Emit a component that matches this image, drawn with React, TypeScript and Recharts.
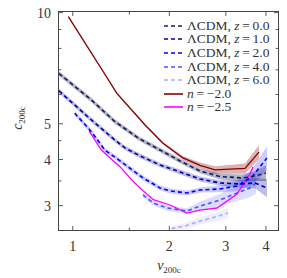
import React from "react";
import { ComposedChart, Line, Area, XAxis, YAxis } from "recharts";

// nu_200c, c_200c and error half-widths
const lcdm0Nu = [0.906, 1.143, 1.352, 1.609, 1.871, 2.16, 2.493, 2.877, 3.393, 3.698, 4.001];
const lcdm0C = [6.84, 5.8, 5.07, 4.56, 4.245, 3.965, 3.724, 3.598, 3.565, 3.61, 3.678];
const lcdm0Err = [0.1, 0.08, 0.07, 0.06, 0.06, 0.055, 0.055, 0.065, 0.08, 0.11, 0.18];

const lcdm1Nu = [0.906, 1.143, 1.352, 1.455, 1.621, 1.871, 2.16, 2.493, 2.877, 3.32, 3.698, 4.03];
const lcdm1C = [6.135, 5.12, 4.52, 4.3, 4.09, 3.867, 3.701, 3.543, 3.456, 3.434, 3.456, 3.35];
const lcdm1Err = [0.09, 0.075, 0.065, 0.06, 0.06, 0.055, 0.055, 0.055, 0.06, 0.08, 0.11, 0.19];

const lcdm2Nu = [1.014, 1.143, 1.258, 1.404, 1.656, 1.871, 2.01, 2.27, 2.493, 2.877, 3.25, 3.619, 4.03];
const lcdm2C = [5.34, 4.76, 4.245, 3.965, 3.565, 3.35, 3.288, 3.247, 3.308, 3.329, 3.392, 3.587, 4.04];
const lcdm2Err = [0.08, 0.07, 0.06, 0.06, 0.055, 0.05, 0.05, 0.05, 0.05, 0.07, 0.11, 0.18, 0.3];

const lcdm4Nu = [1.656, 1.783, 1.967, 2.27, 2.493, 2.877, 3.25, 3.567, 3.724];
const lcdm4C = [3.207, 3.05, 2.956, 2.901, 2.993, 3.107, 3.247, 3.35, 3.456];
const lcdm4Err = [0.05, 0.05, 0.05, 0.05, 0.08, 0.12, 0.16, 0.19, 0.22];

const lcdm6Nu = [2.03, 2.238, 2.493, 2.776, 3.046];
const lcdm6C = [2.6, 2.641, 2.725, 2.794, 2.865];
const lcdm6Err = [0.04, 0.05, 0.06, 0.07, 0.09];

const n20Nu = [0.969, 1.288, 1.371, 1.68, 1.911, 2.206, 2.493, 2.776, 3.442, 3.805];
const n20C = [9.75, 6.6, 6.05, 4.96, 4.43, 4.04, 3.855, 3.748, 3.783, 4.19];
const n20Err = [0.06, 0.04, 0.04, 0.03, 0.03, 0.05, 0.07, 0.09, 0.12, 0.18];

const n25Nu = [1.124, 1.228, 1.307, 1.404, 1.527, 1.621, 1.783, 2.01, 2.27, 2.493, 2.816, 3.25, 3.567, 3.645];
const n25C = [4.78, 4.245, 4.04, 3.826, 3.521, 3.35, 3.113, 3.012, 2.865, 2.919, 2.956, 3.227, 3.655, 3.818];

const xTicks = [1, 1.5, 2, 3, 4];
const xLabeled = [1, 2, 3, 4];
const yTicks = [3, 3.5, 4, 4.5, 5, 6, 7, 8, 9, 10];
const yLabeled = [3, 4, 5, 10];

const W = 287;
const H = 278;
const PL = 59;
const PT = 12;
const PR = 278;
const PB = 230;
const FONT = "'Liberation Serif', serif";
const INK = "#333";

const build = (nu: number[], c: number[], err?: number[]) =>
  nu.map((x, i) => ({
    nu: x,
    c: c[i],
    band: err ? [c[i] - err[i], c[i] + err[i]] : undefined,
  }));

const series = [
  { name: "z = 0.0", data: build(lcdm0Nu, lcdm0C, lcdm0Err), color: "#1a1a5e", alpha: 0.33, dash: "4 3" },
  { name: "z = 1.0", data: build(lcdm1Nu, lcdm1C, lcdm1Err), color: "#0000a0", alpha: 0.26, dash: "4 3" },
  { name: "z = 2.0", data: build(lcdm2Nu, lcdm2C, lcdm2Err), color: "#0000ff", alpha: 0.2, dash: "4 3" },
  { name: "z = 4.0", data: build(lcdm4Nu, lcdm4C, lcdm4Err), color: "#5050ff", alpha: 0.2, dash: "4 3" },
  { name: "z = 6.0", data: build(lcdm6Nu, lcdm6C, lcdm6Err), color: "#aaaaff", alpha: 0.2, dash: "4 3" },
  { name: "n = −2.0", data: build(n20Nu, n20C, n20Err), color: "#8b0000", alpha: 0.3, dash: undefined },
  { name: "n = −2.5", data: build(n25Nu, n25C), color: "#ff00ff", alpha: 0, dash: undefined },
];

const XTick = (props: any) => {
  const { x, payload } = props;
  const major = xLabeled.includes(payload.value);
  const len = major ? 4 : 2.5;
  return (
    <g>
      <line x1={x} y1={PB} x2={x} y2={PB - len} stroke={INK} strokeWidth={0.8} />
      <line x1={x} y1={PT} x2={x} y2={PT + len} stroke={INK} strokeWidth={0.8} />
      {major && (
        <text x={x} y={251} textAnchor="middle" fontFamily={FONT} fontSize={14} fill={INK}>
          {payload.value}
        </text>
      )}
    </g>
  );
};

const YTick = (props: any) => {
  const { y, payload } = props;
  const major = yLabeled.includes(payload.value);
  const len = major ? 4 : 2.5;
  return (
    <g>
      <line x1={PL} y1={y} x2={PL + len} y2={y} stroke={INK} strokeWidth={0.8} />
      <line x1={PR} y1={y} x2={PR - len} y2={y} stroke={INK} strokeWidth={0.8} />
      {major && (
        <text x={51} y={y + 5} textAnchor="end" fontFamily={FONT} fontSize={14} fill={INK}>
          {payload.value}
        </text>
      )}
    </g>
  );
};

const legendRows = [
  { color: "#1a1a5e", dash: "4 3", z: "0.0" },
  { color: "#0000a0", dash: "4 3", z: "1.0" },
  { color: "#0000ff", dash: "4 3", z: "2.0" },
  { color: "#5050ff", dash: "4 3", z: "4.0" },
  { color: "#aaaaff", dash: "4 3", z: "6.0" },
  { color: "#8b0000", dash: undefined, n: "−2.0" },
  { color: "#ff00ff", dash: undefined, n: "−2.5" },
];

export default function App() {
  return (
    <div style={{ position: "absolute", left: 0, top: 0, width: W, height: H, background: "#fff" }}>
      <ComposedChart width={W} height={H} margin={{ top: PT, right: W - PR, bottom: 0, left: 0 }}>
        <XAxis
          dataKey="nu"
          type="number"
          scale="log"
          domain={[0.906, 4.362]}
          allowDataOverflow
          ticks={xTicks}
          tick={<XTick />}
          tickLine={false}
          axisLine={false}
          height={H - PB}
          interval={0}
          label={{
            content: () => (
              <text x={169} y={270} textAnchor="middle" fontFamily={FONT} fill={INK}>
                <tspan fontStyle="italic" fontSize={14}>ν</tspan>
                <tspan fontSize={9} dy={3}>200c</tspan>
              </text>
            ),
          }}
        />
        <YAxis
          dataKey="c"
          type="number"
          scale="log"
          domain={[2.577, 10.04]}
          allowDataOverflow
          ticks={yTicks}
          tick={<YTick />}
          tickLine={false}
          axisLine={false}
          width={PL}
          interval={0}
          label={{
            content: () => (
              <text
                x={22}
                y={118}
                transform="rotate(-90, 22, 118)"
                textAnchor="middle"
                fontFamily={FONT}
                fill={INK}
              >
                <tspan fontStyle="italic" fontSize={14}>c</tspan>
                <tspan fontSize={9} dy={3}>200c</tspan>
              </text>
            ),
          }}
        />
        {series
          .filter((s) => s.alpha > 0)
          .map((s) => (
            <Area
              key={"band" + s.name}
              data={s.data}
              dataKey="band"
              type="linear"
              stroke="none"
              fill={s.color}
              fillOpacity={s.alpha}
              isAnimationActive={false}
              activeDot={false}
            />
          ))}
        {[...series].reverse().map((s) => (
          <Line
            key={"line" + s.name}
            data={s.data}
            dataKey="c"
            type="linear"
            stroke={s.color}
            strokeWidth={s.dash ? 1.6 : 1.3}
            strokeDasharray={s.dash}
            dot={false}
            activeDot={false}
            isAnimationActive={false}
          />
        ))}
      </ComposedChart>
      <div
        style={{
          position: "absolute",
          left: PL - 1,
          top: PT - 1,
          width: PR - PL + 2,
          height: PB - PT + 2,
          boxSizing: "border-box",
          border: "1.5px solid #444",
          pointerEvents: "none",
        }}
      />
      <div style={{ position: "absolute", left: 162, top: 19, fontFamily: FONT, fontSize: 13.5, color: INK }}>
        {legendRows.map((r, i) => (
          <div key={i} style={{ display: "flex", alignItems: "center", height: 13.6, whiteSpace: "nowrap" }}>
            <svg width={25} height={10} style={{ flex: "none" }}>
              <line x1={2} y1={5} x2={21} y2={5} stroke={r.color} strokeWidth={1.6} strokeDasharray={r.dash} />
            </svg>
            {r.z !== undefined ? (
              <span>
                ΛCDM, <i>z</i>&#8201;=&#8201;{r.z}
              </span>
            ) : (
              <span>
                <i>n</i>&#8201;=&#8201;{r.n}
              </span>
            )}
          </div>
        ))}
      </div>
    </div>
  );
}
